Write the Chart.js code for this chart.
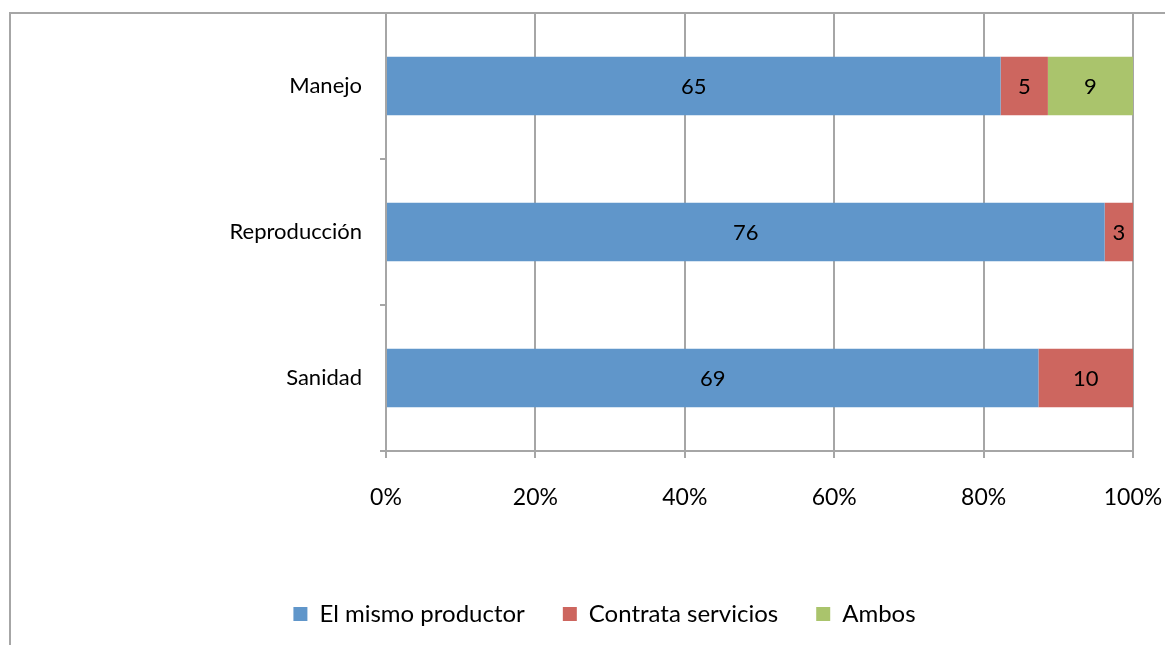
<!DOCTYPE html>
<html>
<head>
<meta charset="utf-8">
<script src="https://cdn.jsdelivr.net/npm/chart.js@4/dist/chart.umd.min.js"></script>
<style>
	html, body { margin: 0; padding: 0; background: #fff; }
	#wrap { width: 1165px; height: 645px; }
</style>
</head>
<body>
<div id="wrap"><canvas id="barChart" width="1165" height="645"></canvas></div>
<script>
// Data
const categories = ["Manejo", "Reproducción", "Sanidad"];
const mismoProductor = [65, 76, 69];
const contrataServicios = [5, 3, 10];
const ambos = [9, 0, 0];
const seriesNames = ["El mismo productor", "Contrata servicios", "Ambos"];
const xTicks = [0, 20, 40, 60, 80, 100];

const rawSeries = [mismoProductor, contrataServicios, ambos];
const totals = categories.map((c, i) => rawSeries.reduce((s, arr) => s + arr[i], 0));
const toPercent = (arr) => arr.map((v, i) => (v / totals[i]) * 100);

const colors = ["#6096CA", "#CD665F", "#AAC46C"];
const gridGray = "#A6A6A6";
const fontFamily = "Lato, 'Noto Sans', sans-serif";

// frame of the chart object (cut at the right and bottom)
const framePlugin = {
	id: "frame",
	beforeDraw(chart) {
		const ctx = chart.ctx;
		ctx.save();
		ctx.strokeStyle = gridGray;
		ctx.lineWidth = 2;
		ctx.beginPath();
		ctx.moveTo(10, 645);
		ctx.lineTo(10, 13);
		ctx.lineTo(1165, 13);
		ctx.stroke();
		ctx.restore();
	},
};

// raw counts written in the middle of each segment
const countLabels = {
	id: "countLabels",
	afterDatasetsDraw(chart) {
		const ctx = chart.ctx;
		ctx.save();
		ctx.font = "22px " + fontFamily;
		ctx.fillStyle = "#000";
		ctx.textAlign = "center";
		ctx.textBaseline = "middle";
		chart.data.datasets.forEach((ds, di) => {
			chart.getDatasetMeta(di).data.forEach((bar, i) => {
				const v = rawSeries[di][i];
				if (!v) return;
				ctx.fillText(String(v), (bar.x + bar.base) / 2, bar.y + 1);
			});
		});
		ctx.restore();
	},
};

// no extra room for overhanging tick labels
const noScalePadding = (scale) => {
	scale.paddingTop = 0;
	scale.paddingBottom = 0;
	scale.paddingLeft = 0;
	scale.paddingRight = 0;
};

new Chart(document.getElementById("barChart"), {
	type: "bar",
	data: {
		labels: categories,
		datasets: rawSeries.map((arr, k) => ({
			label: seriesNames[k],
			data: toPercent(arr),
			backgroundColor: colors[k],
			borderWidth: 0,
			categoryPercentage: 1,
			barPercentage: 0.4,
		})),
	},
	options: {
		indexAxis: "y",
		responsive: false,
		animation: false,
		layout: { padding: { top: 13, right: 32, bottom: 9, left: 76 } },
		plugins: {
			legend: {
				position: "bottom",
				labels: {
					boxWidth: 14,
					boxHeight: 14,
					padding: 38,
					color: "#000",
					font: { family: fontFamily, size: 24 },
				},
			},
			tooltip: { enabled: false },
		},
		scales: {
			x: {
				stacked: true,
				min: 0,
				max: 100,
				afterBuildTicks(scale) {
					scale.ticks = xTicks.map((v) => ({ value: v }));
				},
				ticks: {
					callback: (v) => v + "%",
					color: "#000",
					padding: 26,
					maxRotation: 0,
					font: { family: fontFamily, size: 23 },
				},
				grid: { color: gridGray, lineWidth: 2, tickLength: 7 },
				border: { color: gridGray, width: 2 },
				afterFit(scale) {
					scale.height = 113;
					noScalePadding(scale);
				},
			},
			y: {
				stacked: true,
				ticks: {
					color: "#000",
					padding: 18,
					font: { family: fontFamily, size: 22 },
				},
				grid: {
					offset: true,
					drawOnChartArea: false,
					color: gridGray,
					lineWidth: 2,
					tickLength: 6,
				},
				border: { color: gridGray, width: 2 },
				afterFit(scale) {
					scale.width = 310;
					noScalePadding(scale);
				},
			},
		},
	},
	plugins: [framePlugin, countLabels],
});
</script>
</body>
</html>
